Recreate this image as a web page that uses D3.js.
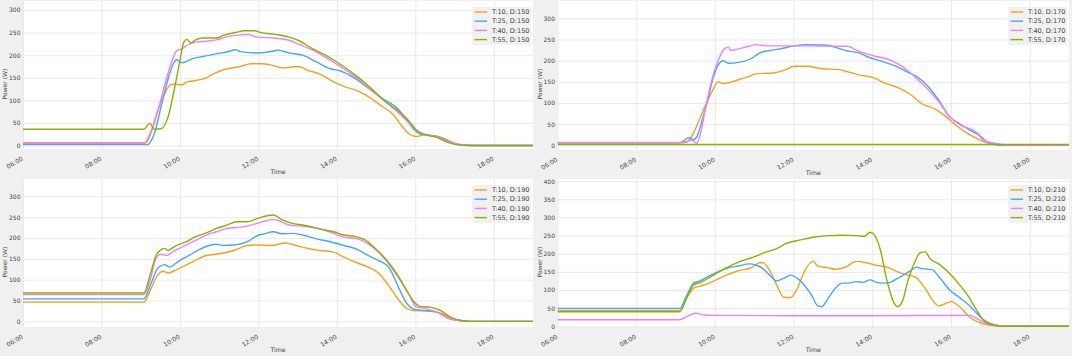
<!DOCTYPE html>
<html>
<head>
<meta charset="utf-8">
<script src="https://cdn.jsdelivr.net/npm/d3@7"></script>
<style>
  body { margin: 0; background: #f0f0f0; }
  svg text { font-family: "DejaVu Sans", sans-serif; fill: #444; }
</style>
</head>
<body>
<svg id="chart" width="1072" height="356"></svg>
<script>
// series labels and tick values
const temps = ["T:10", "T:25", "T:40", "T:55"];
const colors = ["#f5a01e", "#45a7f8", "#f47ff0", "#8cb000"];
const hourTicks = [6, 8, 10, 12, 14, 16, 18];
const powerTicks300 = [0, 50, 100, 150, 200, 250, 300];
const powerTicks400 = [0, 50, 100, 150, 200, 250, 300, 350, 400];

// [hour of day, power W]
const d150_t10 = [[6,4],[9.08,4],[9.26,31],[9.44,78],[9.61,115],[9.79,136],[9.96,135],[10.05,134],[10.18,141],[10.4,144],[10.67,150],[10.84,158],[11.02,165],[11.2,170],[11.54,175],[11.81,181],[12.07,181],[12.34,178],[12.6,172],[12.86,174],[13.04,175],[13.21,168],[13.57,158],[13.83,145],[14.18,131],[14.53,121],[14.88,104],[15.15,87],[15.41,71],[15.67,42],[15.85,25],[16.03,20],[16.2,23],[16.47,21],[16.73,16],[16.99,5],[17.26,1],[17.5,0],[19,0]];
const d150_t25 = [[6,2],[9.17,2],[9.35,27],[9.52,86],[9.7,148],[9.83,181],[9.92,190],[10.05,183],[10.31,192],[10.58,197],[10.93,203],[11.2,207],[11.41,212],[11.54,208],[11.98,205],[12.25,207],[12.51,211],[12.78,205],[13.13,200],[13.48,185],[13.83,170],[14.09,165],[14.44,150],[14.88,122],[15.24,100],[15.5,86],[15.76,60],[15.94,38],[16.11,26],[16.38,23],[16.64,18],[16.9,7],[17.17,1],[17.4,0],[19,0]];
const d150_t40 = [[6,6],[9.13,6],[9.26,27],[9.44,78],[9.61,133],[9.79,185],[9.92,210],[10.05,214],[10.18,222],[10.4,229],[10.67,231],[10.93,234],[11.2,241],[11.54,245],[11.72,246],[11.98,240],[12.42,238],[12.78,233],[13.04,224],[13.48,207],[13.83,189],[14.18,170],[14.53,148],[14.88,122],[15.24,97],[15.59,71],[15.85,49],[16.07,31],[16.29,23],[16.55,20],[16.82,9],[17.17,1.5],[17.43,0],[19,0]];
const d150_t55 = [[6,36],[9.08,36],[9.23,49],[9.35,36],[9.52,37],[9.7,64],[9.87,130],[10.0,188],[10.1,229],[10.18,235],[10.27,227],[10.4,234],[10.58,238],[10.93,238],[11.1,244],[11.46,251],[11.63,254],[11.9,254],[12.07,250],[12.42,246],[12.78,240],[13.04,232],[13.39,214],[13.65,203],[14.0,185],[14.53,152],[14.88,126],[15.24,97],[15.59,75],[15.85,53],[16.03,34],[16.29,23],[16.55,18],[16.82,7],[17.08,1.5],[17.35,0],[19,0]];

const d170_t10 = [[6,6],[9.11,6],[9.29,8],[9.46,30],[9.64,68],[9.82,107],[9.95,131],[10.08,150],[10.21,146],[10.43,150],[10.6,155],[10.87,163],[11.04,169],[11.48,171],[11.75,177],[12.01,187],[12.36,187],[12.71,181],[13.15,179],[13.41,173],[13.68,166],[14.03,160],[14.29,148],[14.64,137],[14.99,119],[15.25,99],[15.61,85],[15.87,68],[16.13,47],[16.39,30],[16.66,16],[16.92,6],[17.18,1.5],[17.4,0],[19,0]];
const d170_t25 = [[6,6],[9.11,6],[9.33,18],[9.46,14],[9.55,22],[9.68,61],[9.82,107],[9.95,158],[10.08,189],[10.21,200],[10.34,194],[10.6,196],[10.96,207],[11.13,218],[11.39,224],[11.66,228],[12.01,235],[12.27,238],[12.8,237],[13.06,232],[13.32,224],[13.68,218],[13.94,207],[14.2,200],[14.55,189],[14.9,173],[15.17,160],[15.43,138],[15.69,107],[15.96,68],[16.22,51],[16.48,36],[16.75,22],[16.92,8],[17.14,1.5],[17.4,0],[19,0]];
const d170_t40 = [[6,7],[9.11,7],[9.3,10],[9.42,12],[9.54,5],[9.64,30],[9.77,92],[9.9,146],[10.08,200],[10.24,228],[10.34,232],[10.41,224],[10.6,228],[10.87,234],[11.04,238],[11.31,235],[12.01,235],[13.37,234],[13.59,225],[13.85,216],[14.11,210],[14.38,204],[14.64,193],[14.9,177],[15.17,154],[15.43,131],[15.69,103],[15.96,68],[16.22,49],[16.53,37],[16.66,30],[16.83,12],[17.1,5],[17.36,1],[17.6,0],[19,0]];
const d170_t55 = [[6,2],[19,2]];

const d190_t10 = [[6,46],[9.08,46],[9.26,78],[9.44,112],[9.57,120],[9.7,116],[9.96,126],[10.31,142],[10.67,158],[11.02,162],[11.37,170],[11.72,182],[11.98,183],[12.34,182],[12.69,188],[12.95,182],[13.3,174],[13.57,170],[13.92,166],[14.18,154],[14.53,140],[14.8,130],[15.06,116],[15.32,86],[15.59,50],[15.76,32],[15.94,26],[16.29,25],[16.64,20],[16.9,8],[17.17,1.5],[17.4,0],[19,0]];
const d190_t25 = [[6,54],[9.08,54],[9.26,90],[9.44,128],[9.61,136],[9.74,130],[9.96,144],[10.23,158],[10.49,172],[10.75,182],[10.93,185],[11.11,182],[11.46,184],[11.72,191],[11.98,206],[12.16,210],[12.38,215],[12.6,210],[12.86,211],[13.13,207],[13.48,198],[13.83,191],[14.18,182],[14.53,172],[14.8,158],[15.06,146],[15.32,130],[15.59,78],[15.76,46],[15.94,30],[16.2,26],[16.55,22],[16.82,8],[17.17,1.5],[17.4,0],[19,0]];
const d190_t40 = [[6,64],[9.08,64],[9.26,106],[9.39,152],[9.52,161],[9.65,158],[9.87,170],[10.14,182],[10.4,194],[10.67,207],[10.93,215],[11.2,223],[11.55,226],[11.81,231],[12.07,238],[12.34,244],[12.51,242],[12.78,231],[13.13,228],[13.48,223],[13.83,214],[14.18,202],[14.53,198],[14.8,186],[15.06,166],[15.32,138],[15.59,102],[15.85,62],[16.03,34],[16.29,30],[16.55,22],[16.82,8],[17.17,1.5],[17.4,0],[19,0]];
const d190_t55 = [[6,68],[9.08,68],[9.26,118],[9.39,158],[9.52,172],[9.61,175],[9.7,170],[9.87,180],[10.14,190],[10.4,203],[10.67,212],[10.93,223],[11.2,231],[11.46,239],[11.72,239],[11.98,247],[12.25,254],[12.38,255],[12.6,244],[12.86,235],[13.13,231],[13.39,226],[13.65,220],[13.92,215],[14.18,207],[14.44,204],[14.71,196],[14.97,176],[15.24,150],[15.5,118],[15.76,78],[15.94,50],[16.11,36],[16.38,34],[16.64,26],[16.9,10],[17.17,2],[17.4,0],[19,0]];

const d210_t10 = [[6,43],[9.11,43],[9.29,79],[9.46,105],[9.64,111],[9.9,121],[10.25,139],[10.6,153],[10.96,163],[11.13,175],[11.22,175],[11.39,154],[11.57,114],[11.75,80],[11.92,79],[12.1,105],[12.27,150],[12.49,179],[12.62,166],[12.89,161],[13.06,157],[13.32,163],[13.59,179],[13.85,175],[14.11,168],[14.38,163],[14.64,150],[14.9,141],[15.08,137],[15.34,105],[15.52,74],[15.69,56],[15.87,63],[16.0,68],[16.22,54],[16.48,25],[16.75,9],[17.01,3],[17.3,0],[19,0]];
const d210_t25 = [[6,49],[9.11,49],[9.29,87],[9.46,119],[9.64,126],[9.82,137],[10.08,150],[10.34,161],[10.6,166],[10.87,172],[11.04,169],[11.22,159],[11.39,141],[11.57,125],[11.75,132],[11.92,141],[12.1,132],[12.27,114],[12.45,87],[12.62,56],[12.71,54],[12.89,79],[13.06,105],[13.24,119],[13.41,119],[13.59,123],[13.76,121],[13.94,128],[14.11,121],[14.29,119],[14.46,121],[14.64,132],[14.82,143],[14.99,154],[15.12,163],[15.25,159],[15.52,156],[15.69,137],[15.96,101],[16.22,79],[16.48,56],[16.75,25],[17.01,7],[17.27,1],[17.5,0],[19,0]];
const d210_t40 = [[6,18],[9.11,18],[9.29,27],[9.51,36],[9.73,31],[10.17,30],[12,29],[14,29],[16.48,30],[16.66,21],[16.92,7],[17.18,2],[17.4,0],[19,0]];
const d210_t55 = [[6,40],[9.11,40],[9.29,80],[9.46,114],[9.64,121],[9.9,137],[10.25,159],[10.6,177],[10.96,190],[11.31,205],[11.57,214],[11.83,229],[12.18,238],[12.54,246],[12.89,250],[13.24,251],[13.59,250],[13.81,248],[13.94,259],[14.03,255],[14.2,213],[14.38,123],[14.55,65],[14.64,54],[14.77,70],[14.9,123],[15.08,177],[15.21,202],[15.34,205],[15.47,186],[15.69,172],[15.96,146],[16.22,114],[16.44,83],[16.66,43],[16.83,16],[17.1,3],[17.3,0],[19,0]];

// panel layout (pixel boxes of the plot areas)
const panels = [
  { d: 150, series: [d150_t10, d150_t25, d150_t40, d150_t55], yTicks: powerTicks300, yDom: [-7.7, 320], x0: 23, x1: 533, y0: 1, y1: 149 },
  { d: 170, series: [d170_t10, d170_t25, d170_t40, d170_t55], yTicks: powerTicks300, yDom: [-10.9, 341], x0: 557.5, x1: 1069, y0: 1, y1: 150 },
  { d: 190, series: [d190_t10, d190_t25, d190_t40, d190_t55], yTicks: powerTicks300, yDom: [-13.6, 341.5], x0: 23, x1: 533, y0: 179, y1: 327 },
  { d: 210, series: [d210_t10, d210_t25, d210_t40, d210_t55], yTicks: powerTicks400, yDom: [-2, 406], x0: 557.5, x1: 1069, y0: 179, y1: 327 }
];

const svg = d3.select("#chart");
svg.append("rect").attr("width", 1072).attr("height", 356).attr("fill", "#f0f0f0");

const fmtHour = h => d3.format("02d")(h) + ":00";

panels.forEach((p, pi) => {
  var w = p.x1 - p.x0, h = p.y1 - p.y0;
  var x = d3.scaleLinear().domain([6, 19]).range([p.x0, p.x1]);
  var y = d3.scaleLinear().domain(p.yDom).range([p.y1, p.y0]);

  svg.append("clipPath").attr("id", "clip" + pi)
    .append("rect").attr("x", p.x0).attr("y", p.y0).attr("width", w).attr("height", h);

  svg.append("rect").attr("x", p.x0).attr("y", p.y0).attr("width", w).attr("height", h).attr("fill", "#fff");

  // grid
  var gy = svg.append("g").attr("transform", "translate(" + p.x0 + ",0)")
    .call(d3.axisLeft(y).tickValues(p.yTicks).tickSize(-w).tickFormat(""));
  var gx = svg.append("g").attr("transform", "translate(0," + p.y1 + ")")
    .call(d3.axisBottom(x).tickValues(hourTicks).tickSize(-h).tickFormat(""));
  [gx, gy].forEach(g => {
    g.select(".domain").remove();
    g.selectAll("line").attr("stroke", "#e3e3e3").attr("stroke-width", 0.8);
  });

  // tick labels
  var ay = svg.append("g").attr("transform", "translate(" + (p.x0 - 1) + ",0)")
    .call(d3.axisLeft(y).tickValues(p.yTicks).tickSize(0).tickPadding(1.5));
  ay.select(".domain").remove();
  ay.selectAll("text").attr("font-size", 6).attr("fill", "#444");

  var ax = svg.append("g").attr("transform", "translate(0," + p.y1 + ")")
    .call(d3.axisBottom(x).tickValues(hourTicks).tickSize(0).tickFormat(fmtHour));
  ax.select(".domain").remove();
  ax.selectAll("text")
    .attr("font-size", 6.2).attr("fill", "#444")
    .attr("text-anchor", "end")
    .attr("y", 0).attr("dy", 0)
    .attr("transform", "translate(0,11) rotate(-30)");

  svg.append("text").attr("x", (p.x0 + p.x1) / 2).attr("y", p.y1 + 24.5)
    .attr("text-anchor", "middle").attr("font-size", 6.2).text("Time");
  svg.append("text")
    .attr("transform", "translate(" + (p.x0 - 16) + "," + (p.y0 + 83) + ") rotate(-90)")
    .attr("text-anchor", "middle").attr("font-size", 6).text("Power (W)");

  // lines
  var line = d3.line().x(d => x(d[0])).y(d => y(d[1])).curve(d3.curveMonotoneX);
  var lg = svg.append("g").attr("clip-path", "url(#clip" + pi + ")");
  p.series.forEach((s, i) => {
    lg.append("path").datum(s)
      .attr("fill", "none").attr("stroke", colors[i]).attr("stroke-width", 1.4)
      .attr("stroke-linejoin", "round").attr("d", line);
  });

  // legend
  var lx = p.x1 - 61, ly = p.y0 + 6;
  var leg = svg.append("g").attr("transform", "translate(" + lx + "," + ly + ")");
  leg.append("rect").attr("width", 59).attr("height", 38).attr("rx", 1.5)
    .attr("fill", "#f0f0f0").attr("fill-opacity", 0.9);
  temps.forEach((t, i) => {
    var yy = 5 + i * 9.2;
    leg.append("line").attr("x1", 2.5).attr("x2", 15).attr("y1", yy).attr("y2", yy)
      .attr("stroke", colors[i]).attr("stroke-width", 1.4);
    leg.append("text").attr("x", 20).attr("y", yy).attr("dy", "0.35em")
      .attr("font-size", 6.5).attr("fill", "#333").text(t + ", D:" + p.d);
  });
});
</script>
</body>
</html>
